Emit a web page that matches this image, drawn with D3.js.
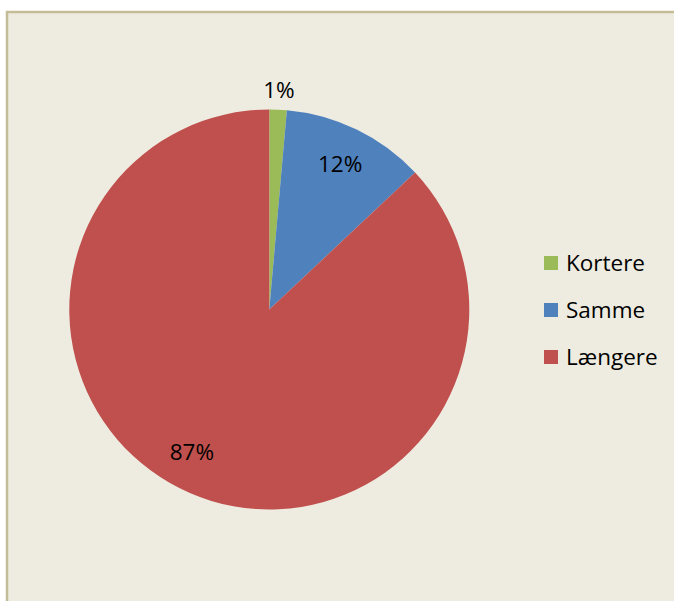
<!DOCTYPE html>
<html>
<head>
<meta charset="utf-8">
<script src="https://cdn.jsdelivr.net/npm/d3@7"></script>
<style>
  html, body { margin: 0; padding: 0; background: #ffffff; overflow: hidden; }
  svg { display: block; }
</style>
</head>
<body>
<div id="chart-container"></div>
<script>
// pie shares (percent)
var categories = ['Kortere', 'Samme', 'Længere'];
var values = [1.4, 11.6, 87.0];
var labels = ['1%', '12%', '87%'];
var colors = ['#9BBB59', '#4F81BD', '#C0504D'];

var width = 674, height = 601;
var cx = 269.3, cy = 309.5, radius = 200;

var svg = d3.select('#chart-container')
    .append('svg')
        .attr('width', width)
        .attr('height', height);

// chart area background, border only shows on top and left
svg.append('rect')
    .attr('x', 7).attr('y', 12)
    .attr('width', width - 7).attr('height', height - 12)
    .attr('fill', '#EEECE1');

svg.append('path')
    .attr('d', 'M7,' + height + 'V12H' + width)
    .attr('fill', 'none')
    .attr('stroke', '#C4BD97')
    .attr('stroke-width', 2.5);

var pie = d3.pie().sort(null).value(function(d){ return d; });
var arcs = pie(values);

var arc = d3.arc().innerRadius(0).outerRadius(radius);

var g = svg.append('g')
    .attr('transform', 'translate(' + cx + ',' + cy + ')');

g.selectAll('path.slice')
    .data(arcs)
    .enter().append('path')
        .attr('class', 'slice')
        .attr('d', arc)
        .attr('fill', function(d, i){ return colors[i]; });

// label positions: 1% sits outside, others inside
var labelArcs = [
    d3.arc().innerRadius(radius * 1.1).outerRadius(radius * 1.1),
    d3.arc().innerRadius(radius * 0.81).outerRadius(radius * 0.81),
    d3.arc().innerRadius(radius * 0.81).outerRadius(radius * 0.81)
];
var labelShift = [0, 0, 0.09];   // small angle nudge (radians) for the big slice

g.selectAll('text.lbl')
    .data(arcs)
    .enter().append('text')
        .attr('class', 'lbl')
        .attr('transform', function(d, i){
            var p = labelArcs[i].centroid({
                startAngle: d.startAngle + labelShift[i],
                endAngle: d.endAngle + labelShift[i]
            });
            return 'translate(' + p[0] + ',' + p[1] + ')';
        })
        .attr('text-anchor', 'middle')
        .attr('dy', '0.36em')
        .attr('font-family', 'Open Sans, sans-serif')
        .attr('font-size', 22.5)
        .attr('fill', '#000')
        .text(function(d, i){ return labels[i]; });

// legend
var legend = svg.append('g')
    .attr('transform', 'translate(544,263)');

var item = legend.selectAll('g.item')
    .data(categories)
    .enter().append('g')
        .attr('class', 'item')
        .attr('transform', function(d, i){ return 'translate(0,' + (i * 47) + ')'; });

item.append('rect')
    .attr('x', 0).attr('y', -7)
    .attr('width', 14).attr('height', 14)
    .attr('fill', function(d, i){ return colors[i]; });

item.append('text')
    .attr('x', 22)
    .attr('dy', '0.36em')
    .attr('font-family', 'Open Sans, sans-serif')
    .attr('font-size', 22.5)
    .attr('fill', '#000')
    .text(function(d){ return d; });
</script>
</body>
</html>
